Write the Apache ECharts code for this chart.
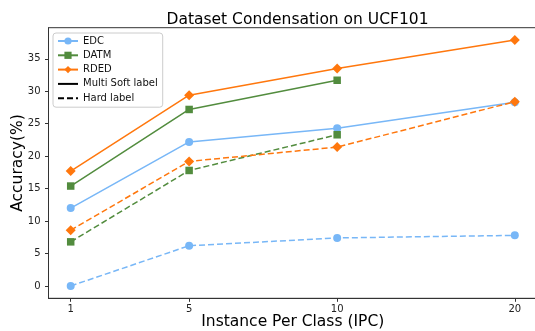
<!DOCTYPE html>
<html>
<head>
<meta charset="utf-8">
<script src="https://cdn.jsdelivr.net/npm/echarts@6/dist/echarts.min.js"></script>
<style>
  html, body { margin: 0; padding: 0; background: #fff; }
  #chart { width: 535px; height: 331px; }
</style>
</head>
<body>
<div id="chart"></div>
<script>
// IPC ticks; the source figure places "20" at x=16 (linear spacing)
const ipcLabels = ['1', '5', '10', '20']
const ipcPos = [1, 5, 10, 16]
const yTicks = [0, 5, 10, 15, 20, 25, 30, 35]

const edcSoft = [12.0, 22.2, 24.3, 28.3]
const edcHard = [0.0, 6.2, 7.4, 7.8]
const datmSoft = [15.4, 27.2, 31.7]
const datmHard = [6.8, 17.8, 23.3]
const rdedSoft = [17.7, 29.4, 33.5, 37.9]
const rdedHard = [8.6, 19.2, 21.4, 28.4]

const colors = { EDC: '#78b7f7', DATM: '#528c3e', RDED: '#ff770d' }
const symbols = { EDC: ['circle', 8], DATM: ['rect', 7.5], RDED: ['diamond', 10] }

function pairs (vals) {
  return vals.map((v, i) => [ipcPos[i], v])
}

function makeSeries (name, vals, dashed) {
  return {
    name: name,
    type: 'line',
    data: pairs(vals),
    symbol: symbols[name][0],
    symbolSize: symbols[name][1],
    showSymbol: true,
    color: colors[name],
    itemStyle: { color: colors[name] },
    lineStyle: { width: 1.5, type: dashed ? [6, 3] : 'solid', color: colors[name] },
    animation: false
  }
}

// legend-only entries (line style keys)
function keySeries (name, type) {
  return {
    name: name,
    type: 'line',
    data: [],
    symbol: 'none',
    itemStyle: { color: 'rgba(0,0,0,0)' },
    lineStyle: { color: '#000', width: 1.5, type: type }
  }
}

const chart = echarts.init(document.getElementById('chart'))
const font = 'DejaVu Sans'
const option = {
  animation: false,
  title: {
    text: 'Dataset Condensation on UCF101',
    left: 292.5,
    top: 7,
    textAlign: 'center',
    textStyle: { fontFamily: font, fontSize: 15.5, fontWeight: 'normal', color: '#000' }
  },
  grid: {
    left: 48.5,
    top: 27.7,
    width: 488.5,
    height: 270.6,
    containLabel: false,
    outerBoundsMode: 'none',
    show: true,
    borderColor: '#333',
    borderWidth: 1
  },
  legend: {
    orient: 'vertical',
    left: 53,
    top: 33,
    padding: [3, 5, 4, 4],
    itemWidth: 20,
    itemHeight: 9,
    itemGap: 4.3,
    backgroundColor: '#fff',
    borderColor: '#ccc',
    borderWidth: 1,
    borderRadius: 3,
    textStyle: { fontFamily: font, fontSize: 10, color: '#111' },
    data: ['EDC', 'DATM', 'RDED', 'Multi Soft label', 'Hard label']
  },
  xAxis: {
    type: 'value',
    min: 0.25,
    max: 16.75,
    name: 'Instance Per Class (IPC)',
    nameLocation: 'middle',
    nameGap: 16,
    nameMoveOverlap: false,
    nameTextStyle: { fontFamily: font, fontSize: 15.5, color: '#000' },
    axisLine: { show: true, onZero: false, lineStyle: { color: '#333', width: 1 } },
    axisTick: { show: true, length: 3.5, customValues: ipcPos, lineStyle: { color: '#333' } },
    axisLabel: {
      customValues: ipcPos,
      margin: 6,
      fontFamily: font,
      fontSize: 10,
      color: '#222',
      formatter: v => ipcLabels[ipcPos.indexOf(v)]
    },
    splitLine: { show: false }
  },
  yAxis: {
    type: 'value',
    min: -1.9,
    max: 39.8,
    name: 'Accuracy(%)',
    nameLocation: 'middle',
    nameRotate: 90,
    nameGap: 23,
    nameMoveOverlap: false,
    nameTextStyle: { fontFamily: font, fontSize: 15.5, color: '#000' },
    axisLine: { show: true, onZero: false, lineStyle: { color: '#333', width: 1 } },
    axisTick: { show: true, length: 3.5, customValues: yTicks, lineStyle: { color: '#333' } },
    axisLabel: { customValues: yTicks, margin: 8, fontFamily: font, fontSize: 10, color: '#222' },
    splitLine: { show: false }
  },
  series: [
    makeSeries('EDC', edcSoft, false),
    makeSeries('EDC', edcHard, true),
    makeSeries('DATM', datmSoft, false),
    makeSeries('DATM', datmHard, true),
    makeSeries('RDED', rdedSoft, false),
    makeSeries('RDED', rdedHard, true),
    keySeries('Multi Soft label', 'solid'),
    keySeries('Hard label', [6, 3])
  ]
}
chart.setOption(option)
</script>
</body>
</html>
